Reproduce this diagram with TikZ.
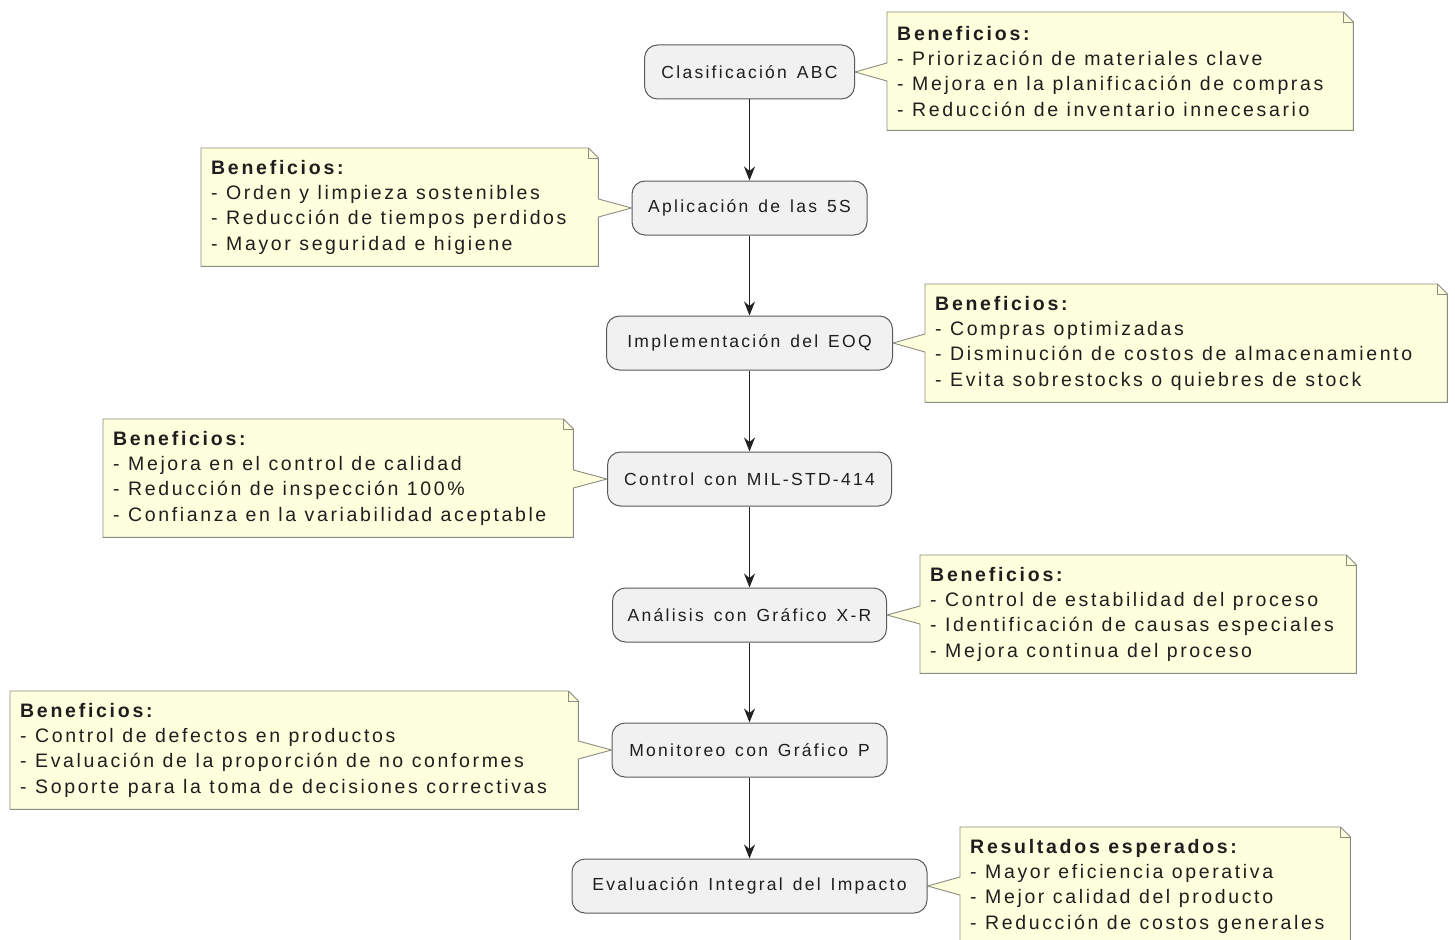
\documentclass[tikz,border=0pt]{standalone}
\usepackage{fontspec}
\setmainfont{Liberation Sans}
\newfontfamily\notefont[LetterSpace=13.5,
  BoldFeatures={LetterSpace=14}]{Liberation Sans}
\newfontfamily\actfont[LetterSpace=13, WordSpace=1.4]{Liberation Sans}
\usetikzlibrary{arrows.meta,calc,backgrounds}

\definecolor{notebg}{HTML}{FEFFDD}
\definecolor{noteline}{HTML}{8C8C80}
\definecolor{actbg}{HTML}{F1F1F1}
\definecolor{actline}{HTML}{5A5A5A}
\definecolor{flow}{HTML}{222222}
\definecolor{ink}{HTML}{1E1E1E}

\tikzset{
  act/.style={rectangle, rounded corners=13pt, fill=actbg, draw=actline,
    line width=1pt, minimum height=54pt, inner sep=0pt, text=ink,
    font=\actfont\fontsize{17.5}{20}\selectfont},
  notebox/.style={rectangle, inner xsep=10pt, inner ysep=0pt,
    minimum height=118pt, align=left, anchor=north west, text=ink,
    font=\notefont\fontsize{19.5}{25.3}\selectfont,
    execute at begin node={\spaceskip=8.5pt\relax}},
  noteshape/.style={fill=notebg, draw=noteline, line width=0.9pt},
  flowarrow/.style={draw=flow, line width=1.5pt,
    -{Stealth[length=14pt,width=11pt,inset=4.5pt]}},
}

% note #1 placed to the right of activity #2: wedge on its west side
\newcommand\noteRightOf[2]{%
  \path[noteshape] (#1.north west) -- ($(#1.north east)+(-10,0)$)
    -- ($(#1.north east)+(0,10)$) -- (#1.south east) -- (#1.south west)
    -- ($(#1.west |- #2.east)+(0,9)$) -- (#2.east)
    -- ($(#1.west |- #2.east)+(0,-9)$) -- cycle;
  \draw[noteshape, fill=none] ($(#1.north east)+(-10,0)$) |- ($(#1.north east)+(0,10)$);
}
% note #1 placed to the left of activity #2: wedge on its east side
\newcommand\noteLeftOf[2]{%
  \path[noteshape] (#1.north west) -- ($(#1.north east)+(-10,0)$)
    -- ($(#1.north east)+(0,10)$)
    -- ($(#1.east |- #2.west)+(0,-9)$) -- (#2.west)
    -- ($(#1.east |- #2.west)+(0,9)$)
    -- (#1.south east) -- (#1.south west) -- cycle;
  \draw[noteshape, fill=none] ($(#1.north east)+(-10,0)$) |- ($(#1.north east)+(0,10)$);
}

\begin{document}
\begin{tikzpicture}[x=1pt, y=-1pt]
\useasboundingbox (0,0) rectangle (1455,939);

% process steps
\node[act, minimum width=210pt] (a1) at (749.5,72)  {Clasificación ABC};
\node[act, minimum width=235pt] (a2) at (749.5,208) {Aplicación de las 5S};
\node[act, minimum width=286pt] (a3) at (749.5,343) {Implementación del EOQ};
\node[act, minimum width=284pt] (a4) at (749.5,479) {Control con MIL-STD-414};
\node[act, minimum width=274pt] (a5) at (749.5,615) {Análisis con Gráfico X-R};
\node[act, minimum width=275pt] (a6) at (749.5,750) {Monitoreo con Gráfico P};
\node[act, minimum width=355pt] (a7) at (749.5,886) {Evaluación Integral del Impacto};

\draw[flowarrow] (a1) -- (a2);
\draw[flowarrow] (a2) -- (a3);
\draw[flowarrow] (a3) -- (a4);
\draw[flowarrow] (a4) -- (a5);
\draw[flowarrow] (a5) -- (a6);
\draw[flowarrow] (a6) -- (a7);

% notes
\node[notebox, text width=446pt] (n1) at (887,12)
  {\textbf{Beneficios:}\\- Priorización de materiales clave\\- Mejora en la planificación de compras\\- Reducción de inventario innecesario};
\node[notebox, text width=377pt] (n2) at (201,148)
  {\textbf{Beneficios:}\\- Orden y limpieza sostenibles\\- Reducción de tiempos perdidos\\- Mayor seguridad e higiene};
\node[notebox, text width=502pt] (n3) at (925,284)
  {\textbf{Beneficios:}\\- Compras optimizadas\\- Disminución de costos de almacenamiento\\- Evita sobrestocks o quiebres de stock};
\node[notebox, text width=450pt] (n4) at (103,419)
  {\textbf{Beneficios:}\\- Mejora en el control de calidad\\- Reducción de inspección 100\%\\- Confianza en la variabilidad aceptable};
\node[notebox, text width=416pt] (n5) at (920,555)
  {\textbf{Beneficios:}\\- Control de estabilidad del proceso\\- Identificación de causas especiales\\- Mejora continua del proceso};
\node[notebox, text width=548pt] (n6) at (10,691)
  {\textbf{Beneficios:}\\- Control de defectos en productos\\- Evaluación de la proporción de no conformes\\- Soporte para la toma de decisiones correctivas};
\node[notebox, text width=370pt] (n7) at (960,827)
  {\textbf{Resultados esperados:}\\- Mayor eficiencia operativa\\- Mejor calidad del producto\\- Reducción de costos generales};

\begin{pgfonlayer}{background}
  \fill[white] (0,0) rectangle (1455,939);
  \noteRightOf{n1}{a1}
  \noteLeftOf{n2}{a2}
  \noteRightOf{n3}{a3}
  \noteLeftOf{n4}{a4}
  \noteRightOf{n5}{a5}
  \noteLeftOf{n6}{a6}
  \noteRightOf{n7}{a7}
\end{pgfonlayer}
\end{tikzpicture}
\end{document}
